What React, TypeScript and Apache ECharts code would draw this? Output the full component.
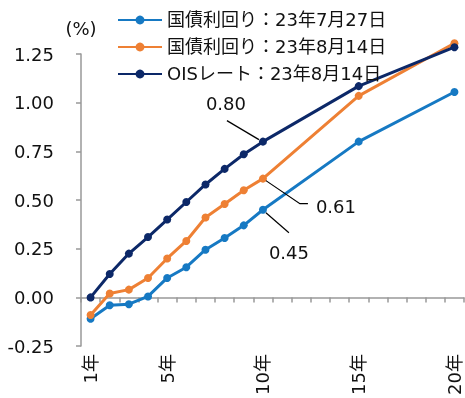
import React, { useEffect, useRef } from "react";
import * as echarts from "echarts";

const categories = Array.from({ length: 20 }, (_, i) => `${i + 1}年`);
const tenors = [1, 2, 3, 4, 5, 6, 7, 8, 9, 10, 15, 20];
const jgbJul27 = [-0.11, -0.04, -0.035, 0.005, 0.1, 0.155, 0.245, 0.305, 0.37, 0.45, 0.8, 1.055];
const jgbAug14 = [-0.09, 0.02, 0.04, 0.1, 0.2, 0.29, 0.41, 0.48, 0.55, 0.61, 1.035, 1.305];
const oisAug14 = [0.0, 0.12, 0.225, 0.31, 0.4, 0.49, 0.58, 0.66, 0.735, 0.8, 1.085, 1.285];
const seriesNames = ["国債利回り：23年7月27日", "国債利回り：23年8月14日", "OISレート：23年8月14日"];
const colors = ["#1679C3", "#EE8034", "#0C2868"];
const labelTenor = 10;
const shownLabels = [1, 5, 10, 15, 20];

const FONT = "'DejaVu Sans', 'Noto Sans CJK JP', sans-serif";
const FS = 18;

function toCategoryData(values: number[]) {
  const arr: any[] = categories.map(() => null);
  tenors.forEach((t, i) => {
    arr[t - 1] = values[i];
  });
  return arr;
}

// label offsets (px) and leader polyline offsets relative to the point
const labelOffsets = [
  { dx: 26, dy: 43, leader: [[3, 3], [26, 23]] },
  { dx: 73, dy: 28, leader: [[3, 2], [37, 25], [45, 25]] },
  { dx: -37, dy: -38, leader: [[-36, -21], [-4, -2]] },
];

export default function App() {
  const ref = useRef<HTMLDivElement>(null);
  useEffect(() => {
    if (!ref.current) return;
    const chart = echarts.init(ref.current, null, { renderer: "svg" });
    const all = [jgbJul27, jgbAug14, oisAug14];
    const series = all.map((vals, si) => {
      const data = toCategoryData(vals).map((v, idx) => {
        if (v === null) return null;
        if (idx === labelTenor - 1) {
          return {
            value: v,
            label: {
              show: true,
              position: "inside",
              formatter: (p: any) => Number(p.value).toFixed(2),
              color: "#111",
              fontSize: FS,
              fontFamily: FONT,
            },
          };
        }
        return v;
      });
      return {
        name: seriesNames[si],
        type: "line",
        data,
        connectNulls: true,
        clip: false,
        symbol: "circle",
        symbolSize: 8,
        color: colors[si],
        lineStyle: { width: 3, color: colors[si] },
        itemStyle: { color: colors[si] },
        labelLayout: (p: any) =>
          p.dataIndex === labelTenor - 1 ? { dx: labelOffsets[si].dx, dy: labelOffsets[si].dy } : {},
        xAxisIndex: 0,
        yAxisIndex: 0,
        z: si === 2 ? 3 : 2,
      };
    });

    chart.setOption({
      animation: false,
      textStyle: { fontFamily: FONT },
      grid: { left: 81, right: 1, top: 54, bottom: 48, containLabel: false },
      legend: {
        show: true,
        orient: "vertical",
        left: 117,
        top: 11,
        padding: 0,
        itemWidth: 44,
        itemHeight: 11,
        itemGap: 9,
        textStyle: { fontSize: FS, color: "#111", fontFamily: FONT },
        data: seriesNames,
      },
      xAxis: [
        {
          type: "category",
          data: categories,
          boundaryGap: true,
          position: "bottom",
          axisLine: { show: true, onZero: true, lineStyle: { color: "#999", width: 1.5 } },
          axisTick: { show: true, interval: 0, length: 5, inside: false, lineStyle: { color: "#999", width: 1.5 } },
          axisLabel: { show: false },
          splitLine: { show: false },
        },
        {
          type: "category",
          data: categories,
          boundaryGap: true,
          position: "bottom",
          axisLine: { show: false, onZero: false },
          axisTick: { show: false },
          axisLabel: {
            show: true,
            rotate: 90,
            margin: 8,
            fontSize: FS,
            color: "#111",
            fontFamily: FONT,
            interval: (index: number) => shownLabels.includes(index + 1),
          },
          splitLine: { show: false },
        },
      ],
      yAxis: {
        type: "value",
        min: -0.25,
        max: 1.25,
        interval: 0.25,
        name: "(%)",
        nameLocation: "end",
        nameGap: 17,
        nameTextStyle: { fontSize: FS, color: "#111", fontFamily: FONT },
        axisLine: { show: true, lineStyle: { color: "#999", width: 1.5 } },
        axisTick: { show: true, length: 5, inside: false, lineStyle: { color: "#999", width: 1.5 } },
        axisLabel: {
          margin: 27,
          fontSize: FS,
          color: "#111",
          fontFamily: FONT,
          formatter: (v: number) => v.toFixed(2),
        },
        splitLine: { show: false },
      },
      series,
    });

    const leaders = all.map((vals, si) => {
      const vi = tenors.indexOf(labelTenor);
      const p = chart.convertToPixel({ xAxisIndex: 0, yAxisIndex: 0 }, [labelTenor - 1, vals[vi]]) as number[];
      return {
        type: "polyline",
        z: 10,
        silent: true,
        shape: { points: labelOffsets[si].leader.map(([ox, oy]) => [p[0] + ox, p[1] + oy]) },
        style: { stroke: "#000", lineWidth: 1.2, fill: "none" },
      };
    });
    chart.setOption({ graphic: leaders });

    return () => chart.dispose();
  }, []);
  return <div ref={ref} style={{ position: "fixed", left: 0, top: 0, width: 465, height: 398 }} />;
}
